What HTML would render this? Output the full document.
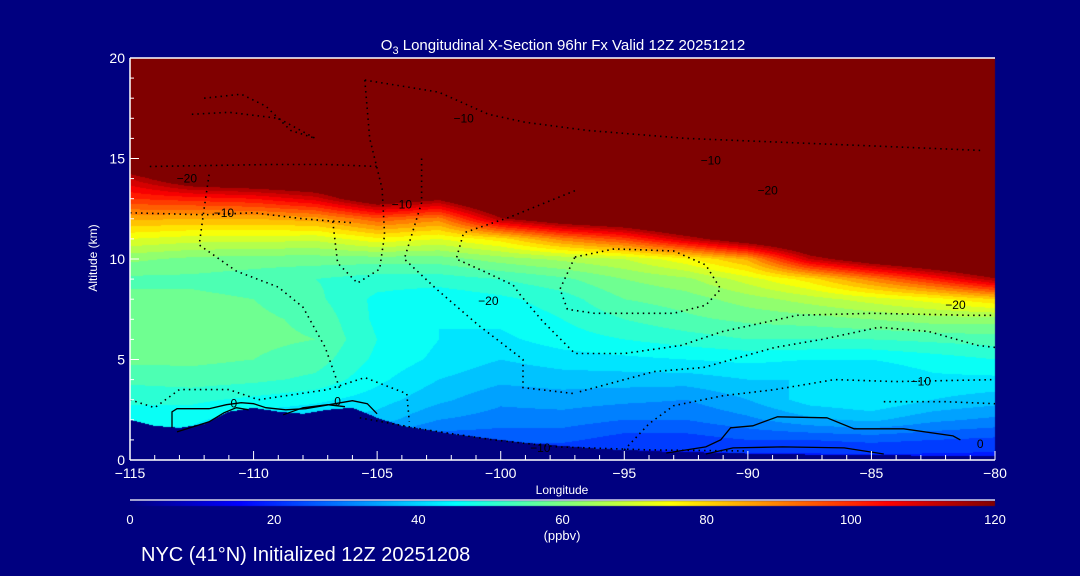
<!DOCTYPE html>
<html><head><meta charset="utf-8"><style>
html,body{margin:0;padding:0;background:#000080;}
#wrap{position:relative;width:1080px;height:576px;background:#000080;overflow:hidden;font-family:"Liberation Sans",sans-serif;color:#fff;}
canvas,svg{position:absolute;left:0;top:0;}
</style></head><body>
<div id="wrap">
<canvas id="cv" width="1080" height="576"></canvas>
<svg id="sv" width="1080" height="576"></svg>
</div>
<script>
// ---- data ----
const lons = [-115,-112.5,-110,-107.5,-105,-102.5,-100,-97.5,-95,-92.5,-90,-87.5,-85,-82.5,-80];
const alts = [0,1,2,3,4,5,6,7,8,9,10,11,12,13,14,15,16];
// ozone (ppbv) rows by altitude (0..16 km), columns by longitude
const o3 = [
[40,40,30,30,30,20,20,18,18,18,18,18,18,18,18],
[42,42,30,32,30,25,25,25,22,22,24,24,25,24,23],
[45,45,41,40,38,32,30,30,28,28,31,35,37,33,31],
[49,49,47,45,42,37,33,34,33,32,36,42,44,40,38],
[53,54,53,51,45,40,37,38,38,38,40,40,40,43,43],
[57,57,56,54,47,43,40,42,43,44,45,44,44,46,48],
[57,58,57,56,48,44,43,46,48,50,52,52,52,53,54],
[57,58,57,55,47,44,45,48,52,55,57,58,60,62,62],
[57,57,56,53,47,45,47,50,56,58,62,66,70,74,80],
[55,55,54,52,50,50,52,55,60,63,70,78,90,102,115],
[61,59,58,58,58,58,62,65,68,75,85,112,124,132,140],
[72,70,70,69,75,72,78,90,98,112,125,135,140,140,140],
[85,84,84,86,95,90,115,125,130,140,140,140,140,140,140],
[100,102,104,110,125,118,135,140,140,140,140,140,140,140,140],
[112,125,128,130,135,140,140,140,140,140,140,140,140,140,140],
[130,140,140,140,140,140,140,140,140,140,140,140,140,140,140],
[140,140,140,140,140,140,140,140,140,140,140,140,140,140,140]];
const terrainLons = [-115,-114,-113,-112,-111,-110,-109,-108,-107,-106,-105,-104,-103,-102,-101,-100,-99,-98,-97,-96,-95,-94,-93,-92,-91,-90,-89,-88,-87,-86,-85,-84,-83,-82,-81,-80];
const terrain = [2.0,1.7,1.6,1.8,2.4,2.6,2.4,2.3,2.5,2.6,2.1,1.7,1.5,1.3,1.15,1.0,0.85,0.75,0.65,0.55,0.5,0.45,0.4,0.38,0.35,0.32,0.3,0.28,0.26,0.25,0.24,0.23,0.22,0.21,0.2,0.2];
const xTicks = [-115,-110,-105,-100,-95,-90,-85,-80];
const yTicks = [0,5,10,15,20];
const cbTicks = [0,20,40,60,80,100,120];
// contour lines [lon, alt] pairs
const dottedLines = [
[[-115,12.3],[-112,12.2],[-110,12.3],[-108,12.0],[-106,11.8]],
[[-114.2,14.6],[-109.3,14.7],[-107,14.7],[-105,14.6]],
[[-105.5,18.9],[-104,18.6],[-102.5,18.3],[-100.5,17.2],[-99,16.8],[-96.5,16.4],[-92.5,16.0],[-88.5,15.8],[-84.5,15.6],[-80.5,15.4]],
[[-112,18],[-110.5,18.2],[-109.5,17.6],[-108.5,16.4],[-107.5,16.0],[-109,17],[-111,17.3],[-112.5,17.2]],
[[-105.5,18.9],[-105.3,16],[-104.8,13.5],[-104.7,11.2],[-104.9,9.5],[-105.8,8.8],[-106.6,9.8],[-106.8,11.9]],
[[-111.8,14.2],[-112,12.5],[-112.2,10.7],[-110.7,9.4],[-109,8.6],[-108,7.6],[-107.1,5.6],[-106.5,3.5]],
[[-103.2,15.0],[-103.2,12.8],[-103.9,10.0],[-102.6,8.5],[-100.9,6.7],[-99.1,5.0],[-99.1,3.6],[-97,3.3]],
[[-97,13.4],[-99.6,12.1],[-101.5,11.3],[-101.8,10.0],[-100.7,9.4],[-99.5,8.7],[-99.2,8.2],[-98.3,6.9],[-97,5.3],[-95,5.3],[-92.7,5.7],[-91,6.4],[-88,7.2],[-85,7.3],[-81,7.2],[-80,7.2]],
[[-97,10.1],[-95.4,10.5],[-93,10.4],[-91.7,9.7],[-91.1,8.5],[-91.7,7.7],[-93,7.3],[-94.6,7.3],[-96.2,7.3],[-97.3,7.5],[-97.6,8.5],[-97,10.1]],
[[-96.8,3.4],[-93.8,4.4],[-91.8,4.6],[-88.9,5.6],[-87,6.0],[-84.7,6.6],[-82.7,6.4],[-80.7,5.7],[-80,5.6]],
[[-95,0.5],[-94,1.8],[-93,2.7],[-91,3.2],[-88.9,3.5],[-86.5,4.0],[-84,3.9],[-80,4.0]],
[[-84.5,2.9],[-82,2.9],[-80,2.8]],
[[-115,3.0],[-114,2.6],[-113,3.5],[-111,3.5],[-109.8,3.0],[-107,3.5],[-105.5,4.1],[-103.8,3.3],[-103.7,1.9]],
[[-105.7,2.1],[-103,1.5],[-100.3,1.0],[-97.7,0.65],[-94,0.5],[-90,0.45]]
];
const solidLines = [
[[-113.3,1.6],[-113.3,2.4],[-113.1,2.55],[-111.8,2.55],[-111.1,2.75],[-110.5,2.85],[-110.0,2.8],[-109.5,2.6],[-108.7,2.5],[-107.9,2.55],[-106.7,2.8],[-106.0,2.95],[-105.4,2.8],[-105.0,2.3]],
[[-113.1,1.4],[-111.8,1.9],[-111.2,2.35],[-110.7,2.6],[-110.2,2.5]],
[[-108.8,2.25],[-108.0,2.6],[-107.0,2.75],[-106.3,2.65]],
[[-93.3,0.35],[-91.7,0.65],[-91.1,1.0],[-90.7,1.6],[-89.8,1.7],[-88.8,2.15],[-86.8,2.1],[-85.7,1.55],[-83.7,1.55],[-81.7,1.2],[-81.4,1.0]],
[[-91.7,0.3],[-90.6,0.6],[-88.6,0.65],[-86.1,0.6],[-84.5,0.3]]
];
const labels = [
[-110.8,2.8,"0"],[-106.6,2.9,"0"],[-80.6,0.8,"0"],[-111.2,12.3,"−10"],[-112.7,14.0,"−20"],
[-104.0,12.7,"−10"],[-100.5,7.9,"−20"],[-101.5,17.0,"−10"],[-89.2,13.4,"−20"],[-91.5,14.9,"−10"],
[-81.6,7.7,"−20"],[-83.0,3.9,"−10"],[-98.4,0.6,"−10"]
];
// ---- axes ----
const X0=130,X1=995,Y0=460,Y1=58,LMIN=-115,LMAX=-80,AMAX=20;
function xs(l){return X0+(l-LMIN)/(LMAX-LMIN)*(X1-X0);}
function ys(a){return Y0-a/AMAX*(Y0-Y1);}
function jet(t){t=Math.max(0,Math.min(1,t));const c=v=>Math.round(255*Math.max(0,Math.min(1,v)));
return [c(1.5-Math.abs(4*t-3)),c(1.5-Math.abs(4*t-2)),c(1.5-Math.abs(4*t-1))];}
function interp(arrX,arrY,x){if(x<=arrX[0])return arrY[0];for(let i=1;i<arrX.length;i++){if(x<=arrX[i]){const f=(x-arrX[i-1])/(arrX[i]-arrX[i-1]);return arrY[i-1]+f*(arrY[i]-arrY[i-1]);}}return arrY[arrY.length-1];}
function val(l,a){
 let ci=Math.min(lons.length-2,Math.max(0,Math.floor((l-lons[0])/(lons[1]-lons[0]))));
 let fc=(l-lons[ci])/(lons[ci+1]-lons[ci]);
 let ri=Math.min(alts.length-2,Math.floor(a));let fr=a-alts[ri];
 if(a>=alts[alts.length-1])return o3[alts.length-1][ci];
 const v00=o3[ri][ci],v01=o3[ri][ci+1],v10=o3[ri+1][ci],v11=o3[ri+1][ci+1];
 return (v00*(1-fc)+v01*fc)*(1-fr)+(v10*(1-fc)+v11*fc)*fr;}
const cv=document.getElementById('cv');const ctx=cv.getContext('2d');
const W=X1-X0,H=Y0-Y1;const img=ctx.createImageData(W,H);
for(let py=0;py<H;py++){const a=(Y0-(Y1+py+0.5))/(Y0-Y1)*AMAX;
 for(let px=0;px<W;px++){const l=LMIN+(px+0.5)/W*(LMAX-LMIN);const k=(py*W+px)*4;let col;
  if(a<interp(terrainLons,terrain,l))col=[0,0,128];
  else{let v=val(l,a);v=Math.min(120,Math.floor(v/4)*4+2);col=jet(v/120);if(v>=118)col=[128,0,0];}
  img.data[k]=col[0];img.data[k+1]=col[1];img.data[k+2]=col[2];img.data[k+3]=255;}}
ctx.putImageData(img,X0,Y1);
// colorbar
for(let px=0;px<W;px++){const c=jet(px/W);ctx.fillStyle=`rgb(${c[0]},${c[1]},${c[2]})`;ctx.fillRect(X0+px,501,1,5);}
// ---- svg overlay ----
const NS="http://www.w3.org/2000/svg";const sv=document.getElementById('sv');
function mk(tag,attrs,parent){const e=document.createElementNS(NS,tag);for(const k in attrs)e.setAttribute(k,attrs[k]);(parent||sv).appendChild(e);return e;}
function pts(line){return line.map(p=>xs(p[0]).toFixed(1)+","+ys(p[1]).toFixed(1)).join(" ");}
dottedLines.forEach((ln,i)=>{const e=mk('polyline',{points:pts(ln),fill:'none',stroke:'#000','stroke-width':1.6,'stroke-dasharray':'1.5 4'});

});
solidLines.forEach((ln,i)=>{const e=mk('polyline',{points:pts(ln),fill:'none',stroke:'#000','stroke-width':1.3});

});
labels.forEach((lb,i)=>{const t=mk('text',{x:xs(lb[0]),y:ys(lb[1])+4,fill:'#000','font-size':12,'text-anchor':'middle'});t.textContent=lb[2];

});
// frame
const fr=mk('path',{d:`M${X0},${Y1}H${X1}M${X0},${Y0}H${X1}M${X0},${Y1}V${Y0}`,stroke:'#fff','stroke-width':1.5,fill:'none'});


for(let l=LMIN;l<=LMAX;l++){const major=xTicks.includes(l);const t=mk('line',{x1:xs(l),x2:xs(l),y1:Y0,y2:Y0-(major?9:5),stroke:'#fff','stroke-width':1});

}
for(let a=0;a<=AMAX;a+=1){const major=yTicks.includes(a);const t=mk('line',{x1:X0,x2:X0+(major?9:4),y1:ys(a),y2:ys(a),stroke:'#fff','stroke-width':1});

}
xTicks.forEach(l=>{const t=mk('text',{x:xs(l),y:478,fill:'#fff','font-size':14,'text-anchor':'middle'});t.textContent=(l<0?"−":"")+Math.abs(l);

});
yTicks.forEach(a=>{const t=mk('text',{x:125,y:ys(a)+5,fill:'#fff','font-size':14,'text-anchor':'end'});t.textContent=a;

});
const cbl=mk('line',{x1:X0,x2:X1,y1:500,y2:500,stroke:'#fff','stroke-width':1.2});


cbTicks.forEach(v=>{const t=mk('text',{x:X0+v/120*W,y:524,fill:'#fff','font-size':13,'text-anchor':'middle'});t.textContent=v;

});
function txt(s,x,y,size,name,extra){const t=mk('text',Object.assign({x:x,y:y,fill:'#fff','font-size':size},extra||{}));t.textContent=s;

return t;}
const ti=txt("",563,50,15,'chart-title',{'text-anchor':'middle'});
ti.innerHTML='O<tspan font-size="11" dy="4">3</tspan><tspan dy="-4"> Longitudinal X-Section 96hr  Fx Valid 12Z 20251212</tspan>';
txt("Longitude",562,494,12,'x-axis-title',{'text-anchor':'middle'});
txt("Altitude (km)",0,0,12,'y-axis-title',{'text-anchor':'middle',transform:'translate(97,258) rotate(-90)'});
txt("(ppbv)",562,540,13,'colorbar-units',{'text-anchor':'middle'});
txt("NYC (41°N) Initialized 12Z 20251208",141,561,20,'footer-text',{});
</script>
</body></html>
